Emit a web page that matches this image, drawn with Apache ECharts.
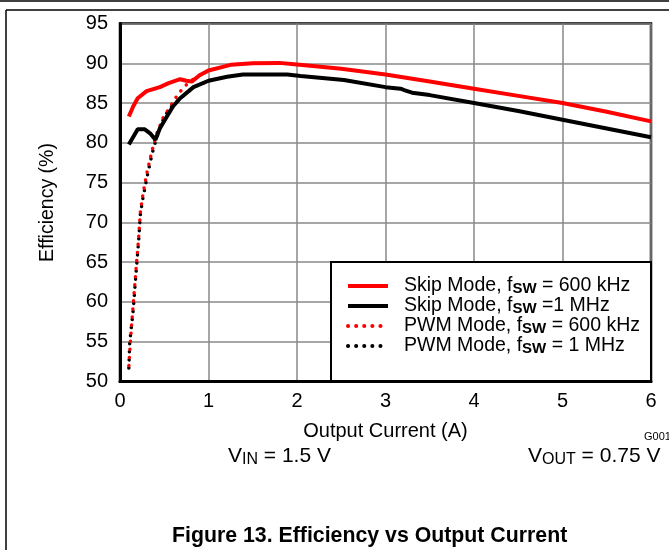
<!DOCTYPE html>
<html>
<head>
<meta charset="utf-8">
<script src="https://cdn.jsdelivr.net/npm/echarts@6/dist/echarts.min.js"></script>
<style>
  html, body { margin: 0; padding: 0; background: #fff; }
  #chart { width: 669px; height: 550px; }
</style>
</head>
<body>
<div id="chart"></div>
<script>
// output current (A), efficiency (%)
const skip600 = [
  [0.1, 83.3], [0.15, 84.6], [0.2, 85.6], [0.3, 86.5], [0.45, 87.0], [0.55, 87.5],
  [0.68, 88.0], [0.75, 87.8], [0.81, 87.7], [0.9, 88.5], [1.0, 89.1], [1.25, 89.8],
  [1.5, 90.0], [1.8, 90.05], [2.0, 89.85], [2.5, 89.3], [3.0, 88.6], [3.5, 87.7],
  [4.0, 86.8], [4.5, 85.9], [5.0, 85.0], [5.5, 83.9], [6.0, 82.7]
]
const skip1M = [
  [0.1, 79.8], [0.2, 81.7], [0.28, 81.7], [0.34, 81.2], [0.4, 80.4], [0.45, 81.8],
  [0.53, 83.3], [0.6, 84.6], [0.68, 85.6], [0.83, 87.0], [1.0, 87.8], [1.21, 88.3],
  [1.39, 88.6], [1.89, 88.6], [2.04, 88.4], [2.53, 87.9], [3.0, 87.0], [3.17, 86.8],
  [3.19, 86.95], [3.22, 86.6], [3.3, 86.3], [3.5, 86.0], [4.0, 85.0], [4.5, 84.0],
  [5.0, 82.9], [5.5, 81.8], [6.0, 80.7]
]
const pwm600 = [
  [0.1, 52.0], [0.12, 55.5], [0.15, 59.8], [0.18, 64.0], [0.21, 68.0], [0.23, 71.3],
  [0.26, 73.6], [0.3, 76.0], [0.34, 78.0], [0.38, 79.8], [0.42, 81.3], [0.49, 83.2],
  [0.57, 84.6], [0.66, 86.2], [0.75, 87.3], [0.85, 88.2], [1.0, 89.1]
]
const pwm1M = [
  [0.1, 51.7], [0.11, 54.9], [0.15, 59.1], [0.18, 63.5], [0.21, 67.6], [0.23, 71.0],
  [0.26, 73.1], [0.3, 75.4], [0.34, 77.5], [0.38, 79.4], [0.42, 80.8], [0.47, 82.5],
  [0.55, 84.2], [0.68, 85.6], [0.83, 87.0], [1.0, 87.8]
]
const legendNames = [
  'Skip Mode, f{s|SW} = 600 kHz',
  'Skip Mode, f{s|SW} =1 MHz',
  'PWM Mode, f{s|SW} = 600 kHz',
  'PWM Mode, f{s|SW} = 1 MHz'
]

const font = 'Liberation Sans, Arial, sans-serif'
const chart = echarts.init(document.getElementById('chart'))

function solid(name, color, data) {
  return {
    name, type: 'line', data, symbol: 'none',
    lineStyle: { color, width: 4 }, itemStyle: { color }
  }
}
function dotted(name, color, data) {
  return {
    name, type: 'line', data, symbol: 'none',
    lineStyle: { color, width: 3.5, type: [0.1, 8], cap: 'round' }, itemStyle: { color }
  }
}

chart.setOption({
  animation: false,
  textStyle: { fontFamily: font },
  grid: {
    left: 120, right: 18, top: 23.5, bottom: 168.5,
    show: true, borderColor: '#000', borderWidth: 2.5
  },
  xAxis: {
    type: 'value', min: 0, max: 6, interval: 1,
    name: 'Output Current (A)', nameLocation: 'middle', nameGap: 40,
    nameTextStyle: { fontSize: 20, color: '#000', fontFamily: font },
    axisLine: { lineStyle: { color: '#000', width: 3 } },
    axisTick: { show: false },
    axisLabel: { fontSize: 20, color: '#000', margin: 10, fontFamily: font },
    splitLine: { lineStyle: { color: '#888', width: 1.5 } }
  },
  yAxis: {
    type: 'value', min: 50, max: 95, interval: 5,
    name: 'Efficiency (%)', nameLocation: 'middle', nameGap: 62, nameRotate: 90,
    nameTextStyle: { fontSize: 19.5, color: '#000', fontFamily: font },
    axisLine: { show: true, lineStyle: { color: '#000', width: 3 } },
    axisTick: { show: false },
    axisLabel: { fontSize: 20, color: '#000', margin: 12, fontFamily: font },
    splitLine: { lineStyle: { color: '#888', width: 1.5 } }
  },
  legend: {
    data: legendNames,
    orient: 'vertical',
    left: 346, top: 276, z: 6,
    itemWidth: 40, itemHeight: 14, itemGap: 0,
    padding: 0,
    itemStyle: { opacity: 0 },
    lineStyle: { width: 4 },
    formatter: n => '{g|}' + n,
    textStyle: {
      fontSize: 19.5, color: '#000', fontFamily: font, lineHeight: 19,
      rich: {
        g: { width: 11 },
        s: { fontSize: 15, fontWeight: 'bold', fontFamily: font, padding: [5, 0, 0, 0], lineHeight: 14 }
      }
    }
  },
  series: [
    dotted(legendNames[3], '#000', pwm1M),
    dotted(legendNames[2], '#ff0000', pwm600),
    solid(legendNames[1], '#000', skip1M),
    solid(legendNames[0], '#ff0000', skip600)
  ],
  graphic: [
    { type: 'line', shape: { x1: 0, y1: 1, x2: 669, y2: 1 }, style: { stroke: '#000', lineWidth: 1.5 } },
    { type: 'line', shape: { x1: 6, y1: 10, x2: 669, y2: 10 }, style: { stroke: '#000', lineWidth: 1.5 } },
    { type: 'line', shape: { x1: 6, y1: 10, x2: 6, y2: 550 }, style: { stroke: '#000', lineWidth: 1.5 } },
    {
      type: 'rect', z: 3, shape: { x: 331, y: 262, width: 320, height: 119 },
      style: { fill: '#fff', stroke: '#000', lineWidth: 2 }
    },
    {
      type: 'text', left: 644, top: 431,
      style: { text: 'G001', font: '11px ' + font, fill: '#000' }
    },
    {
      type: 'text', left: 228, top: 446,
      style: {
        text: 'V{s|IN} = 1.5 V', font: '21px ' + font, fill: '#000',
        rich: { s: { fontSize: 16, fontFamily: font, padding: [7, 0, 0, 0] } }
      }
    },
    {
      type: 'text', left: 528, top: 446,
      style: {
        text: 'V{s|OUT} = 0.75 V', font: '21px ' + font, fill: '#000',
        rich: { s: { fontSize: 16, fontFamily: font, padding: [7, 0, 0, 0] } }
      }
    },
    {
      type: 'text', left: 172, top: 526,
      style: { text: 'Figure 13. Efficiency vs Output Current', font: 'bold 21.3px ' + font, fill: '#000' }
    }
  ]
})
</script>
</body>
</html>
